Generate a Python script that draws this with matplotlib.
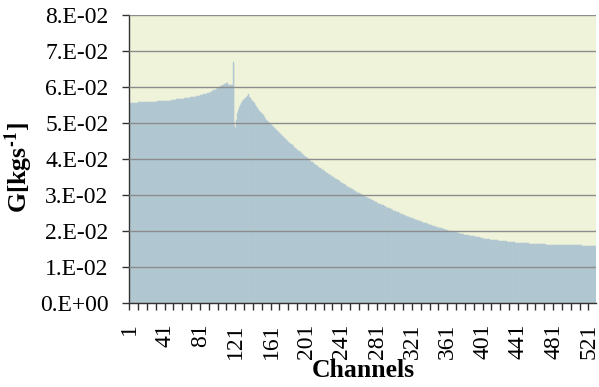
import numpy as np
import matplotlib
matplotlib.use('Agg')
import matplotlib.pyplot as plt

plt.rcParams['font.family'] = 'Liberation Serif'
plt.rcParams['mathtext.fontset'] = 'stix'

# category labels shown on the x axis (every 40th channel)
channel_labels = ['1', '41', '81', '121', '161', '201', '241', '281', '321',
                  '361', '401', '441', '481', '521']

# y axis
y_ticks = [0.0, 0.01, 0.02, 0.03, 0.04, 0.05, 0.06, 0.07, 0.08]
y_tick_labels = ['0.E+00', '1.E-02', '2.E-02', '3.E-02', '4.E-02',
                 '5.E-02', '6.E-02', '7.E-02', '8.E-02']

# mass flow per channel [kg/s]
g_values = [
    0.0556, 0.0556, 0.0556, 0.0556, 0.0556, 0.0556, 0.0556, 0.0556, 0.0556, 0.0556,
    0.0557, 0.0557, 0.0557, 0.0557, 0.0557, 0.0557, 0.0557, 0.0557, 0.0557, 0.0557,
    0.0558, 0.0558, 0.0558, 0.0558, 0.0558, 0.0559, 0.0559, 0.0559, 0.0559, 0.0559,
    0.0559, 0.0560, 0.0560, 0.0560, 0.0560, 0.0560, 0.0560, 0.0561, 0.0561, 0.0561,
    0.0561, 0.0561, 0.0561, 0.0561, 0.0562, 0.0562, 0.0562, 0.0563, 0.0563, 0.0563,
    0.0564, 0.0564, 0.0564, 0.0565, 0.0565, 0.0565, 0.0566, 0.0566, 0.0566, 0.0567,
    0.0567, 0.0567, 0.0568, 0.0568, 0.0568, 0.0569, 0.0569, 0.0570, 0.0570, 0.0571,
    0.0571, 0.0572, 0.0572, 0.0573, 0.0573, 0.0574, 0.0574, 0.0575, 0.0575, 0.0576,
    0.0577, 0.0577, 0.0578, 0.0579, 0.0579, 0.0580, 0.0581, 0.0581, 0.0582, 0.0583,
    0.0584, 0.0585, 0.0586, 0.0587, 0.0589, 0.0590, 0.0591, 0.0592, 0.0594, 0.0596,
    0.0597, 0.0599, 0.0600, 0.0602, 0.0603, 0.0605, 0.0606, 0.0608, 0.0609, 0.0611,
    0.0611, 0.0610, 0.0606, 0.0605, 0.0604, 0.0604, 0.0605, 0.0668, 0.0664, 0.0492,
    0.0485, 0.0507, 0.0526, 0.0537, 0.0544, 0.0549, 0.0552, 0.0556, 0.0560, 0.0563,
    0.0566, 0.0569, 0.0572, 0.0576, 0.0580, 0.0576, 0.0572, 0.0568, 0.0564, 0.0561,
    0.0558, 0.0554, 0.0551, 0.0547, 0.0544, 0.0540, 0.0537, 0.0533, 0.0530, 0.0527,
    0.0524, 0.0521, 0.0518, 0.0515, 0.0512, 0.0509, 0.0506, 0.0503, 0.0500, 0.0498,
    0.0495, 0.0493, 0.0490, 0.0488, 0.0485, 0.0483, 0.0480, 0.0478, 0.0475, 0.0473,
    0.0471, 0.0468, 0.0466, 0.0463, 0.0461, 0.0459, 0.0456, 0.0454, 0.0451, 0.0449,
    0.0447, 0.0445, 0.0442, 0.0440, 0.0438, 0.0436, 0.0434, 0.0431, 0.0429, 0.0427,
    0.0425, 0.0423, 0.0421, 0.0419, 0.0417, 0.0414, 0.0412, 0.0410, 0.0408, 0.0406,
    0.0404, 0.0402, 0.0400, 0.0398, 0.0396, 0.0394, 0.0392, 0.0390, 0.0388, 0.0386,
    0.0384, 0.0382, 0.0381, 0.0379, 0.0377, 0.0375, 0.0373, 0.0372, 0.0370, 0.0368,
    0.0366, 0.0365, 0.0363, 0.0361, 0.0360, 0.0358, 0.0356, 0.0354, 0.0353, 0.0351,
    0.0349, 0.0348, 0.0346, 0.0345, 0.0343, 0.0341, 0.0340, 0.0338, 0.0337, 0.0335,
    0.0333, 0.0332, 0.0330, 0.0329, 0.0327, 0.0325, 0.0324, 0.0322, 0.0321, 0.0319,
    0.0318, 0.0316, 0.0315, 0.0313, 0.0312, 0.0311, 0.0309, 0.0308, 0.0306, 0.0305,
    0.0304, 0.0302, 0.0301, 0.0300, 0.0298, 0.0297, 0.0296, 0.0295, 0.0293, 0.0292,
    0.0291, 0.0289, 0.0288, 0.0287, 0.0286, 0.0284, 0.0283, 0.0282, 0.0280, 0.0279,
    0.0278, 0.0277, 0.0275, 0.0274, 0.0273, 0.0272, 0.0271, 0.0270, 0.0268, 0.0267,
    0.0266, 0.0265, 0.0264, 0.0263, 0.0262, 0.0260, 0.0259, 0.0258, 0.0257, 0.0256,
    0.0255, 0.0254, 0.0253, 0.0252, 0.0251, 0.0249, 0.0248, 0.0247, 0.0246, 0.0245,
    0.0244, 0.0243, 0.0242, 0.0241, 0.0240, 0.0239, 0.0238, 0.0237, 0.0236, 0.0235,
    0.0234, 0.0233, 0.0232, 0.0231, 0.0231, 0.0230, 0.0229, 0.0228, 0.0227, 0.0226,
    0.0225, 0.0224, 0.0223, 0.0222, 0.0222, 0.0221, 0.0220, 0.0219, 0.0218, 0.0217,
    0.0216, 0.0215, 0.0215, 0.0214, 0.0213, 0.0212, 0.0211, 0.0211, 0.0210, 0.0209,
    0.0208, 0.0207, 0.0207, 0.0206, 0.0205, 0.0204, 0.0204, 0.0203, 0.0202, 0.0201,
    0.0201, 0.0200, 0.0200, 0.0200, 0.0199, 0.0198, 0.0198, 0.0197, 0.0196, 0.0196,
    0.0195, 0.0194, 0.0194, 0.0193, 0.0192, 0.0192, 0.0191, 0.0190, 0.0190, 0.0189,
    0.0189, 0.0188, 0.0188, 0.0187, 0.0187, 0.0186, 0.0186, 0.0185, 0.0185, 0.0184,
    0.0184, 0.0183, 0.0183, 0.0182, 0.0182, 0.0181, 0.0181, 0.0180, 0.0180, 0.0179,
    0.0179, 0.0178, 0.0178, 0.0178, 0.0177, 0.0177, 0.0176, 0.0176, 0.0175, 0.0175,
    0.0175, 0.0174, 0.0174, 0.0174, 0.0173, 0.0173, 0.0173, 0.0172, 0.0172, 0.0172,
    0.0172, 0.0171, 0.0171, 0.0171, 0.0170, 0.0170, 0.0170, 0.0170, 0.0169, 0.0169,
    0.0169, 0.0169, 0.0168, 0.0168, 0.0168, 0.0168, 0.0168, 0.0167, 0.0167, 0.0167,
    0.0167, 0.0167, 0.0166, 0.0166, 0.0166, 0.0166, 0.0166, 0.0165, 0.0165, 0.0165,
    0.0165, 0.0165, 0.0165, 0.0164, 0.0164, 0.0164, 0.0164, 0.0164, 0.0163, 0.0163,
    0.0163, 0.0163, 0.0163, 0.0163, 0.0163, 0.0162, 0.0162, 0.0162, 0.0162, 0.0162,
    0.0162, 0.0162, 0.0161, 0.0161, 0.0161, 0.0161, 0.0161, 0.0161, 0.0161, 0.0161,
    0.0161, 0.0160, 0.0160, 0.0160, 0.0160, 0.0160, 0.0160, 0.0160, 0.0160, 0.0160,
    0.0160, 0.0160, 0.0159, 0.0159, 0.0159, 0.0159, 0.0159, 0.0159, 0.0159, 0.0159,
    0.0159, 0.0159, 0.0159, 0.0159, 0.0159, 0.0159, 0.0159, 0.0159, 0.0159, 0.0159,
    0.0159, 0.0159, 0.0159, 0.0158, 0.0158, 0.0158, 0.0158, 0.0158, 0.0158, 0.0158,
    0.0158, 0.0158, 0.0158, 0.0158, 0.0158, 0.0158, 0.0158, 0.0158, 0.0158,
]

channels = np.arange(1, len(g_values) + 1)
n = len(g_values)

fig = plt.figure(figsize=(5.99, 3.87), dpi=100)
ax = fig.add_axes([0.2159, 0.2183, 0.7798, 0.7429])
ax.set_facecolor('#EFF3D9')

ax.bar(channels, g_values, width=1.0, color='#A0BBD0',
       edgecolor='#BBCED2', linewidth=0.35)

ax.set_xlim(0.5, n + 0.5)
ax.set_ylim(0, 0.08)

# labels every 40 channels, tick marks every 10 channels
ax.set_xticks([int(s) for s in channel_labels])
ax.set_xticklabels(channel_labels, rotation=90, fontsize=17)
ax.set_xticks(np.arange(0.5, n + 1, 10), minor=True)
ax.tick_params(axis='x', which='major', length=0, pad=15)
ax.tick_params(axis='x', which='minor', length=5, width=1, color='#333333',
               direction='out')

ax.set_yticks(y_ticks)
ax.set_yticklabels(y_tick_labels, fontsize=17)
ax.tick_params(axis='y', length=5, width=1, color='#333333', pad=10)

ax.set_axisbelow(False)
ax.yaxis.grid(True, color='#8C8C8C', linewidth=1.0)

for side in ['top', 'right']:
    ax.spines[side].set_visible(False)
for side in ['left', 'bottom']:
    ax.spines[side].set_color('#333333')
    ax.spines[side].set_linewidth(1.0)

ax.set_xlabel('Channels', fontsize=18.5, fontweight='bold')
ax.xaxis.set_label_coords(0.5, -0.198)
ax.set_ylabel('G[kgs$^{\\mathbf{\u20101}}$]', fontsize=18.5, fontweight='bold')
ax.yaxis.set_label_coords(-0.202, 0.47)

fig.savefig('out.png', dpi=100)
